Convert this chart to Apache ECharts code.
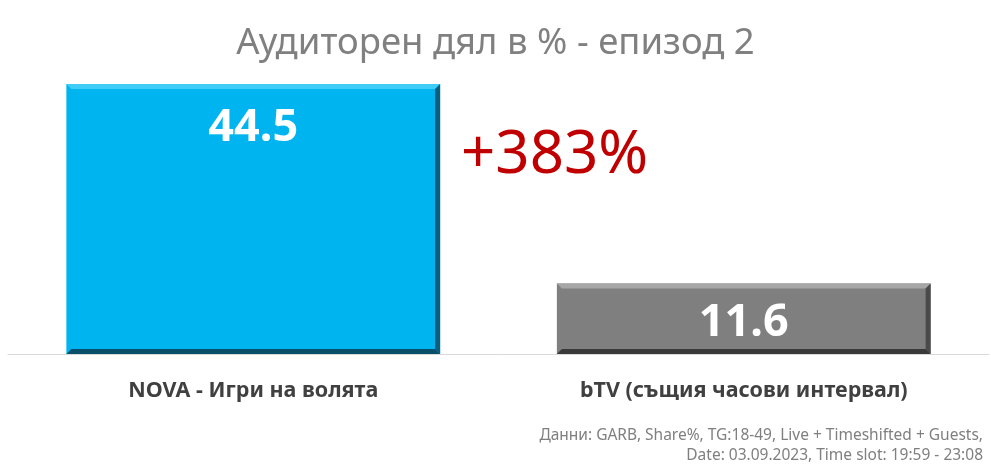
<!DOCTYPE html>
<html>
<head>
<meta charset="utf-8">
<script src="https://cdn.jsdelivr.net/npm/echarts@6/dist/echarts.min.js"></script>
<style>
  html, body { margin: 0; padding: 0; background: #fff; }
  #chart { width: 991px; height: 465px; }
</style>
</head>
<body>
<div id="chart"></div>
<script>
var categories = ['NOVA - Игри на волята', 'bTV (същия часови интервал)'];
var shares = [44.5, 11.6];
var barColors = [
  { face: '#00B5EF', light: '#3FCDF8', dark: '#0B5E7E', darker: '#0A4F6A' },
  { face: '#7F7F7F', light: '#A6A6A6', dark: '#4A4A4A', darker: '#3A3A3A' }
];
var growthText = '+383%';
var noteLines = [
  'Данни: GARB, Share%, TG:18-49, Live + Timeshifted + Guests,',
  'Date: 03.09.2023, Time slot: 19:59 - 23:08'
];

var chart = echarts.init(document.getElementById('chart'));
var FONT = '"Noto Sans", "Open Sans", sans-serif';

// bevelled bar, drawn from the axis coordinates
function renderBar(params, api) {
  var i = api.value(0);
  var base = api.coord([i, 0]);
  var top = api.coord([i, api.value(1)]);
  var w = api.size([1, 0])[0] * 0.762;
  var x0 = base[0] - w / 2, x1 = base[0] + w / 2;
  var y0 = top[1], y1 = base[1];
  var b = 5;
  var c = barColors[i];
  var labelY = i === 0 ? y0 + 44 : (y0 + y1) / 2 + 4;
  return {
    type: 'group',
    children: [
      { type: 'rect', shape: { x: x0, y: y0, width: w, height: y1 - y0 }, style: { fill: c.face } },
      { type: 'polygon', shape: { points: [[x0, y0], [x1, y0], [x1 - b, y0 + b], [x0 + b, y0 + b]] }, style: { fill: c.light } },
      { type: 'polygon', shape: { points: [[x1, y0], [x1, y1], [x1 - b, y1 - b], [x1 - b, y0 + b]] }, style: { fill: c.dark } },
      { type: 'polygon', shape: { points: [[x0, y1], [x1, y1], [x1 - b, y1 - b], [x0 + b, y1 - b]] }, style: { fill: c.darker } },
      {
        type: 'text',
        style: {
          x: base[0], y: labelY,
          text: String(api.value(1)),
          fill: '#fff', fontSize: 45, fontWeight: 'bold', fontFamily: FONT,
          align: 'center', verticalAlign: 'middle'
        }
      }
    ]
  };
}

var option = {
  animation: false,
  backgroundColor: '#fff',
  title: {
    text: 'Аудиторен дял в % - епизод 2',
    left: 'center',
    top: 20,
    textStyle: { color: '#808080', fontSize: 36.5, fontWeight: 'normal', fontFamily: FONT }
  },
  grid: { left: 8, right: 2, top: 84, bottom: 111 },
  xAxis: {
    type: 'category',
    data: categories,
    axisLine: { lineStyle: { color: '#D9D9D9', width: 1 } },
    axisTick: { show: false },
    axisLabel: {
      color: '#404040', fontSize: 21.5, fontWeight: 'bold', fontFamily: FONT, margin: 26
    }
  },
  yAxis: {
    type: 'value',
    min: 0,
    max: 44.5,
    show: false
  },
  series: [{
    type: 'custom',
    renderItem: renderBar,
    encode: { x: 0, y: 1 },
    data: shares.map(function (v, i) { return [i, v]; })
  }],
  graphic: [
    {
      type: 'text', left: 461, top: 126,
      style: { text: growthText, fill: '#C00000', fontSize: 60, fontFamily: FONT }
    },
    {
      type: 'text', right: 8, top: 428,
      style: { text: noteLines[0], fill: '#7F7F7F', fontSize: 15.5, fontFamily: FONT }
    },
    {
      type: 'text', right: 8, top: 448,
      style: { text: noteLines[1], fill: '#7F7F7F', fontSize: 15.5, fontFamily: FONT }
    }
  ]
};

chart.setOption(option);
</script>
</body>
</html>
